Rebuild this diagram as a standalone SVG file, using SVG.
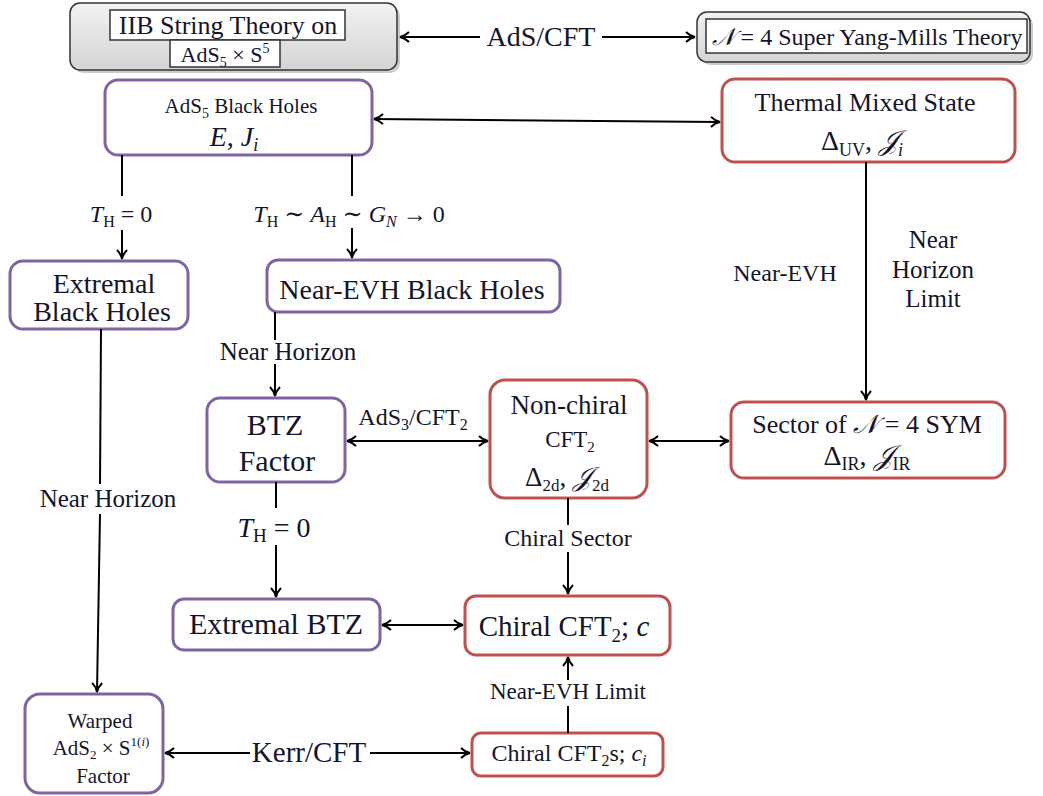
<svg xmlns="http://www.w3.org/2000/svg" width="1043" height="796" viewBox="0 0 1043 796">
<defs>
<linearGradient id="gray" x1="0" y1="0" x2="0" y2="1">
<stop offset="0" stop-color="#f2f2f2"/>
<stop offset="1" stop-color="#d4d4d4"/>
</linearGradient>
<marker id="ah" viewBox="0 0 12 12" refX="11" refY="6" markerWidth="12" markerHeight="12" markerUnits="userSpaceOnUse" orient="auto-start-reverse">
<path d="M2,1 Q6,5 11,6 Q6,7 2,11" fill="none" stroke="#000" stroke-width="2"/>
</marker>
</defs>
<style>
text{font-family:"Liberation Serif","DejaVu Serif",serif;fill:#15152a;text-anchor:middle}
.i{font-style:italic}
.p{fill:#fff;stroke:#8064a2;stroke-width:3}
.r{fill:#fff;stroke:#c0504d;stroke-width:3}
.g{fill:url(#gray);stroke:#333;stroke-width:1.5}
.sh{fill:#999;opacity:.5}
.w{fill:#fff;stroke:#333;stroke-width:1.5}
.c line{stroke:#000;stroke-width:2;fill:none}
</style>
<g id="iib">
<rect class="sh" x="73" y="6" width="327" height="67" rx="10"/>
<rect class="g" x="70" y="3" width="327" height="67" rx="10"/>
<rect class="w" x="110" y="10" width="235" height="30"/>
<rect class="w" x="170" y="40" width="110" height="27"/>
<text x="228" y="34" font-size="26">IIB String Theory on</text>
<text x="225" y="62" font-size="22">AdS<tspan font-size="14" dy="5">5</tspan><tspan dy="-5"> × S</tspan><tspan font-size="14" dy="-9">5</tspan></text>
</g>
<g id="sym">
<rect class="sh" x="700" y="15" width="333" height="50" rx="10"/>
<rect class="g" x="697" y="12" width="333" height="50" rx="10"/>
<rect class="w" x="706" y="19" width="321" height="34"/>
<text x="867" y="45" font-size="24"><tspan class="i">𝒩</tspan> = 4 Super Yang-Mills Theory</text>
</g>
<g id="ads5bh">
<rect class="p" x="105" y="80" width="267" height="75" rx="13"/>
<text x="241" y="113" font-size="21">AdS<tspan font-size="14" dy="5">5</tspan><tspan dy="-5"> Black Holes</tspan></text>
<text x="234" y="146" font-size="28" class="i">E<tspan font-style="normal">, </tspan>J<tspan font-size="18" dy="5">i</tspan></text>
</g>
<g id="thermal">
<rect class="r" x="722" y="79" width="293" height="83" rx="13"/>
<text x="865" y="111" font-size="26">Thermal Mixed State</text>
<text x="862" y="150" font-size="28">Δ<tspan font-size="18" dy="6">UV</tspan><tspan dy="-6">, </tspan><tspan class="i">𝒥</tspan><tspan class="i" font-size="18" dy="6">i</tspan></text>
</g>
<g id="extremal">
<rect class="p" x="10" y="261" width="178" height="68" rx="13"/>
<text x="104" y="293" font-size="28">Extremal</text>
<text x="102" y="321" font-size="28">Black Holes</text>
</g>
<g id="nearevh">
<rect class="p" x="267" y="260" width="293" height="52" rx="11"/>
<text x="412" y="299" font-size="28">Near-EVH Black Holes</text>
</g>
<g id="btz">
<rect class="p" x="207" y="398" width="138" height="84" rx="13"/>
<text x="275" y="435" font-size="30">BTZ</text>
<text x="277" y="471" font-size="30">Factor</text>
</g>
<g id="nonchiral">
<rect class="r" x="490" y="380" width="157" height="118" rx="15"/>
<text x="569" y="414" font-size="27">Non-chiral</text>
<text x="570" y="447" font-size="23">CFT<tspan font-size="15" dy="5">2</tspan></text>
<text x="567" y="486" font-size="27">Δ<tspan font-size="17" dy="5">2d</tspan><tspan dy="-5">,  </tspan><tspan class="i">𝒥</tspan><tspan font-size="17" dy="5">2d</tspan></text>
</g>
<g id="sector">
<rect class="r" x="731" y="402" width="274" height="76" rx="13"/>
<text x="867" y="433" font-size="26">Sector of <tspan class="i">𝒩</tspan> = 4 SYM</text>
<text x="867" y="465" font-size="28">Δ<tspan font-size="18" dy="5">IR</tspan><tspan dy="-5">,  </tspan><tspan class="i">𝒥</tspan><tspan font-size="18" dy="5">IR</tspan></text>
</g>
<g id="extbtz">
<rect class="p" x="173" y="599" width="207" height="51" rx="11"/>
<text x="276" y="634" font-size="30">Extremal BTZ</text>
</g>
<g id="chiral">
<rect class="r" x="465" y="596" width="205" height="59" rx="11"/>
<text x="564" y="636" font-size="29">Chiral CFT<tspan font-size="19" dy="6">2</tspan><tspan dy="-6">; </tspan><tspan class="i">c</tspan></text>
</g>
<g id="warped">
<rect class="p" x="25" y="694" width="138" height="99" rx="15"/>
<text x="100" y="728" font-size="21">Warped</text>
<text x="101" y="755" font-size="21">AdS<tspan font-size="13" dy="4">2</tspan><tspan dy="-4"> × S</tspan><tspan font-size="13" dy="-9">1(<tspan class="i">i</tspan>)</tspan></text>
<text x="103" y="783" font-size="21">Factor</text>
</g>
<g id="chirals">
<rect class="r" x="472" y="733" width="191" height="43" rx="9"/>
<text x="569" y="761" font-size="24">Chiral CFT<tspan font-size="16" dy="5">2</tspan><tspan dy="-5">s; </tspan><tspan class="i">c</tspan><tspan class="i" font-size="16" dy="5">i</tspan></text>
</g>
<g id="connectors" class="c">
<line x1="480" y1="37" x2="400" y2="37" marker-end="url(#ah)"/>
<line x1="602" y1="37" x2="695" y2="37" marker-end="url(#ah)"/>
<line x1="374" y1="119" x2="720" y2="122" marker-start="url(#ah)" marker-end="url(#ah)"/>
<line x1="122" y1="155" x2="122" y2="196"/>
<line x1="122" y1="230" x2="122" y2="259" marker-end="url(#ah)"/>
<line x1="352" y1="155" x2="352" y2="196"/>
<line x1="352" y1="228" x2="352" y2="258" marker-end="url(#ah)"/>
<line x1="275" y1="312" x2="275" y2="340"/>
<line x1="275" y1="364" x2="275" y2="396" marker-end="url(#ah)"/>
<line x1="347" y1="441" x2="488" y2="441" marker-start="url(#ah)" marker-end="url(#ah)"/>
<line x1="649" y1="441" x2="729" y2="441" marker-start="url(#ah)" marker-end="url(#ah)"/>
<line x1="866" y1="162" x2="866" y2="400" marker-end="url(#ah)"/>
<line x1="276" y1="482" x2="276" y2="508"/>
<line x1="276" y1="545" x2="276" y2="597" marker-end="url(#ah)"/>
<line x1="568" y1="498" x2="568" y2="525"/>
<line x1="568" y1="552" x2="568" y2="594" marker-end="url(#ah)"/>
<line x1="382" y1="625" x2="463" y2="625" marker-start="url(#ah)" marker-end="url(#ah)"/>
<line x1="101" y1="329" x2="100" y2="484"/>
<line x1="100" y1="514" x2="97" y2="692" marker-end="url(#ah)"/>
<line x1="250" y1="753" x2="165" y2="753" marker-end="url(#ah)"/>
<line x1="370" y1="753" x2="470" y2="753" marker-end="url(#ah)"/>
<line x1="568" y1="733" x2="568" y2="706"/>
<line x1="568" y1="680" x2="568" y2="657" marker-end="url(#ah)"/>
</g>
<g id="labels">
<text x="541" y="46" font-size="28">AdS/CFT</text>
<text x="121" y="222" font-size="24"><tspan class="i">T</tspan><tspan font-size="16" dy="5">H</tspan><tspan dy="-5"> = 0</tspan></text>
<text x="349" y="222" font-size="24"><tspan class="i">T</tspan><tspan font-size="16" dy="5">H</tspan><tspan dy="-5"> ∼ </tspan><tspan class="i">A</tspan><tspan font-size="16" dy="5">H</tspan><tspan dy="-5"> ∼ </tspan><tspan class="i">G</tspan><tspan class="i" font-size="16" dy="5">N</tspan><tspan dy="-5"> → 0</tspan></text>
<text x="288" y="360" font-size="25">Near Horizon</text>
<text x="413" y="425" font-size="24">AdS<tspan font-size="16" dy="5">3</tspan><tspan dy="-5">/CFT</tspan><tspan font-size="16" dy="5">2</tspan></text>
<text x="785" y="281" font-size="24">Near-EVH</text>
<text x="933" y="248" font-size="25">Near</text>
<text x="933" y="278" font-size="25">Horizon</text>
<text x="933" y="307" font-size="25">Limit</text>
<text x="274" y="537" font-size="28"><tspan class="i">T</tspan><tspan font-size="19" dy="5">H</tspan><tspan dy="-5"> = 0</tspan></text>
<text x="568" y="546" font-size="24">Chiral Sector</text>
<text x="108" y="507" font-size="25">Near Horizon</text>
<text x="309" y="762" font-size="29">Kerr/CFT</text>
<text x="568" y="699" font-size="23">Near-EVH Limit</text>
</g>
</svg>
